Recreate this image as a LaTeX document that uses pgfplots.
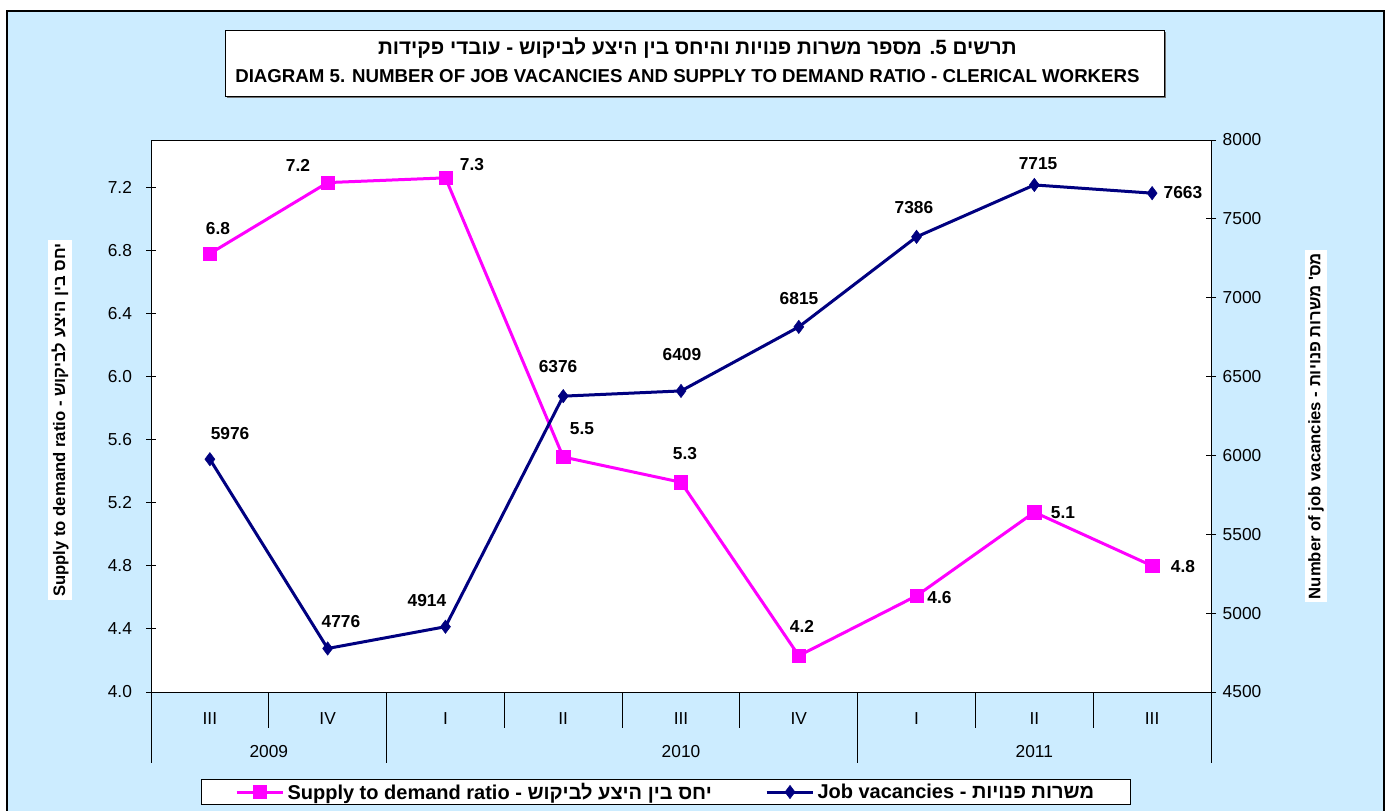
\documentclass[border=0pt]{standalone}
\usepackage{fontspec}
\setmainfont{Liberation Sans}
\newfontfamily\heb[Script=Hebrew]{Liberation Sans}
\usepackage{pgfplots}
\usepackage{pgfplotstable}
\pgfplotsset{compat=1.18}
\TeXXeTstate=1
\definecolor{bgblue}{RGB}{204,236,255}
\definecolor{mag}{RGB}{255,0,255}
\definecolor{navy}{RGB}{0,0,128}

\pgfplotstableread{
x r
0 6.78
1 7.23
2 7.26
3 5.49
4 5.33
5 4.23
6 4.61
7 5.14
8 4.80
}\ratiotab
\pgfplotstableread{
x v
0 5976
1 4776
2 4914
3 6376
4 6409
5 6815
6 7386
7 7715
8 7663
}\vactab

\begin{document}
\begin{tikzpicture}
\useasboundingbox (0,0) rectangle (1043.25pt,-607.5pt);
\fill[white] (0,0) rectangle (1043.25pt,-607.5pt);
\fill[bgblue] (5.25pt,-8.25pt) rectangle (1038pt,-612pt);
\draw[line width=2pt] (5.25pt,-612pt) -- (5.25pt,-8.25pt) -- (1038pt,-8.25pt) -- (1038pt,-612pt);
% title box
\fill[black!55] (170.25pt,-24pt) rectangle (874.5pt,-73.5pt);
\draw[fill=white, line width=0.75pt] (168.75pt,-22.5pt) rectangle (873pt,-72pt);
\node[font=\fontsize{15.5}{17}\selectfont\bfseries\heb] at (523pt,-36pt) {\beginR תרשים 5. מספר משרות פנויות והיחס בין היצע לביקוש - עובדי פקידות\endR};
\node[font=\fontsize{14}{16}\selectfont\bfseries] at (515.6pt,-57pt) {DIAGRAM 5. NUMBER OF JOB VACANCIES AND SUPPLY TO DEMAND RATIO - CLERICAL WORKERS};

% category separators
\begin{scope}[line width=0.75pt]
\draw (113.25pt,-519pt) -- (113.25pt,-572.25pt);
\draw (201.58pt,-515.25pt) -- (201.58pt,-546pt);
\draw (289.92pt,-515.25pt) -- (289.92pt,-572.25pt);
\draw (378.25pt,-515.25pt) -- (378.25pt,-546pt);
\draw (466.58pt,-515.25pt) -- (466.58pt,-546pt);
\draw (554.92pt,-515.25pt) -- (554.92pt,-546pt);
\draw (643.25pt,-515.25pt) -- (643.25pt,-572.25pt);
\draw (731.58pt,-515.25pt) -- (731.58pt,-546pt);
\draw (819.92pt,-515.25pt) -- (819.92pt,-546pt);
\draw (908.25pt,-519pt) -- (908.25pt,-572.25pt);
\end{scope}

\begin{axis}[
  at={(113.25pt,-519pt)}, anchor=south west,
  scale only axis, width=795pt, height=414pt,
  xmin=-0.5, xmax=8.5, ymin=4, ymax=7.5,
  axis background/.style={fill=white},
  xtick={0,...,8}, xticklabels={III,IV,I,II,III,IV,I,II,III},
  x tick style={draw=none},
  xticklabel style={anchor=center, yshift=-16pt, font=\fontsize{13}{15}\selectfont},
  ytick={4,4.4,4.8,5.2,5.6,6,6.4,6.8,7.2},
  ytick pos=left,
  yticklabel style={/pgf/number format/.cd, fixed, fixed zerofill, precision=1, /tikz/.cd, font=\fontsize{13}{15}\selectfont, xshift=-7pt},
  /pgf/number format/assume math mode=true,
  tick align=center, major tick length=7.5pt,
  tick style={black, line width=0.75pt},
  axis line style={line width=0.75pt},
  clip=false,
]
\addplot[mag, line width=2.25pt, mark=square*, mark size=5pt, mark options={line width=0.4pt}] table[x=x,y=r]{\ratiotab};
\begin{scope}[every node/.style={font=\fontsize{13}{15}\selectfont\bfseries}]
\node at (axis cs:0.069,6.941) {6.8};
\node at (axis cs:0.748,7.340) {7.2};
\node at (axis cs:2.225,7.346) {7.3};
\node at (axis cs:3.159,5.670) {5.5};
\node at (axis cs:4.034,5.512) {5.3};
\node at (axis cs:5.027,4.417) {4.2};
\node at (axis cs:6.195,4.601) {4.6};
\node at (axis cs:7.243,5.139) {5.1};
\node at (axis cs:8.262,4.797) {4.8};
\end{scope}
\begin{scope}[every node/.style={font=\fontsize{13}{15}\selectfont}]
\node at ([yshift=-45pt]axis cs:0.5,4) {2009};
\node at ([yshift=-45pt]axis cs:4,4) {2010};
\node at ([yshift=-45pt]axis cs:7,4) {2011};
\end{scope}
\end{axis}

\begin{axis}[
  at={(113.25pt,-519pt)}, anchor=south west,
  scale only axis, width=795pt, height=414pt,
  xmin=-0.5, xmax=8.5, ymin=4500, ymax=8000,
  axis x line=none, axis y line*=right,
  ytick={4500,5000,5500,6000,6500,7000,7500,8000},
  yticklabel style={/pgf/number format/.cd, 1000 sep={}, /tikz/.cd, font=\fontsize{13}{15}\selectfont, xshift=1.5pt},
  /pgf/number format/assume math mode=true,
  tick align=center, major tick length=7.5pt,
  tick style={black, line width=0.75pt},
  axis line style={line width=0.75pt},
  clip=false,
  legend style={at={(0.4858,-0.1812)}, anchor=center, legend columns=2, draw=black, fill=white,
    line width=0.75pt,
    font=\fontsize{15}{17}\selectfont\bfseries,
    /tikz/every even column/.append style={column sep=38pt},
    inner xsep=25pt, inner ysep=0.5pt},
  legend image code/.code={\draw[mark repeat=2,mark phase=2,#1] plot coordinates {(0pt,0pt) (17.5pt,0pt) (35pt,0pt)};},
]
\addlegendimage{mag, line width=2.25pt, mark=square*, mark size=5pt, mark options={line width=0.4pt}}
\addlegendentry{Supply to demand ratio - {\heb\beginR יחס בין היצע לביקוש\endR}}
\addplot[navy, line width=2.25pt, mark=diamond*, mark size=5pt, mark options={line width=0.4pt}] table[x=x,y=v]{\vactab};
\addlegendentry{Job vacancies - {\heb\beginR משרות פנויות\endR}}
\begin{scope}[every node/.style={font=\fontsize{13}{15}\selectfont\bfseries}]
\node at (axis cs:0.171,6142) {5976};
\node at (axis cs:1.113,4944) {4776};
\node at (axis cs:1.843,5077) {4914};
\node at (axis cs:2.956,6561) {6376};
\node at (axis cs:4.008,6637) {6409};
\node at (axis cs:5.002,6992) {6815};
\node at (axis cs:5.978,7569) {7386};
\node at (axis cs:7.032,7848) {7715};
\node at (axis cs:8.262,7670) {7663};
\end{scope}
\end{axis}

\node[rotate=90, fill=white, inner sep=2.5pt, font=\fontsize{12.5}{14}\selectfont\bfseries] at (45pt,-315pt) {Supply to demand ratio - {\heb\beginR יחס בין היצע לביקוש\endR}};
\node[rotate=90, fill=white, inner sep=2.5pt, font=\fontsize{12.5}{14}\selectfont\bfseries] at (987pt,-319.5pt) {Number of job vacancies - {\heb\beginR מס' משרות פנויות\endR}};
\end{tikzpicture}
\end{document}
